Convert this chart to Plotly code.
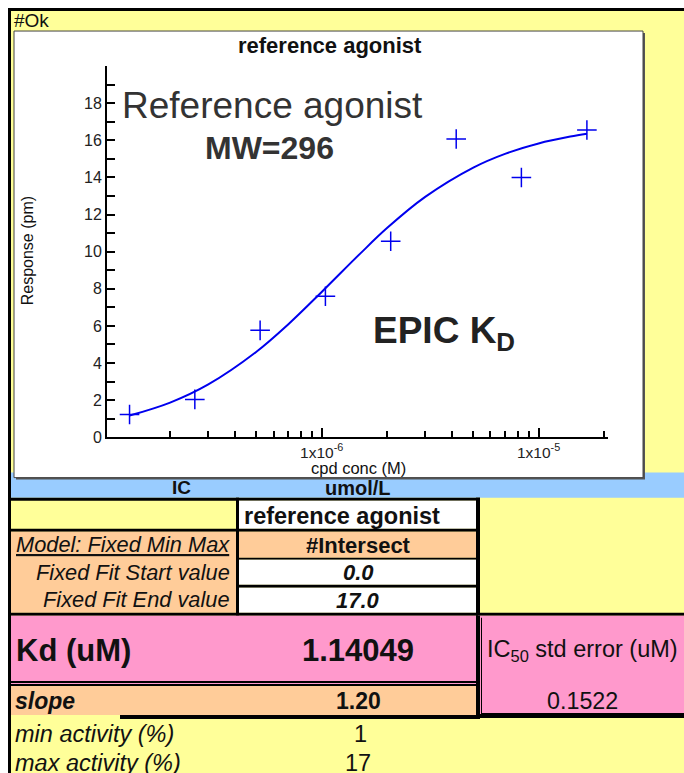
import plotly.graph_objects as go

# ---------------- data ----------------
conc_M = [1.3e-7, 2.6e-7, 5.2e-7, 1.04e-6, 2.08e-6, 4.17e-6, 8.33e-6, 1.67e-5]
response_pm = [1.23, 2.04, 5.76, 7.6, 10.56, 16.07, 14.0, 16.56]

fit_conc_M = [1.3e-7, 2e-7, 3e-7, 5e-7, 7e-7, 1e-6, 1.5e-6, 2e-6, 3e-6,
              5e-6, 7e-6, 1e-5, 1.4e-5, 1.67e-5]
fit_resp_pm = [1.17, 1.87, 2.85, 4.61, 6.08, 7.83, 9.88, 11.27, 12.95,
               14.53, 15.27, 15.83, 16.20, 16.35]

x_major_ticks = [1e-6, 1e-5]
x_major_labels = ["1x10<sup>-6</sup>", "1x10<sup>-5</sup>"]
x_minor_ticks = [2e-7, 3e-7, 4e-7, 5e-7, 6e-7, 7e-7, 8e-7, 9e-7,
                 2e-6, 3e-6, 4e-6, 5e-6, 6e-6, 7e-6, 8e-6, 9e-6, 2e-5]
y_major_ticks = [0, 2, 4, 6, 8, 10, 12, 14, 16, 18]
y_major_labels = ["0", "2", "4", "6", "8", "10", "12", "14", "16", "18"]
y_minor_ticks = [1, 3, 5, 7, 9, 11, 13, 15, 17, 19, 20]

compound = "reference agonist"
model = "#Intersect"
fit_start = "0.0"
fit_end = "17.0"
kd_uM = "1.14049"
slope = "1.20"
ic50_err = "0.1522"
min_act = "1"
max_act = "17"

# ---------------- layout helpers ----------------
W, H = 684, 773          # layout grid (reference pixels)
FIG_H = 783              # figure height
FONT = "Liberation Sans, Arial, sans-serif"
YEL, BLUE, ORG, PINK = "#FFFF99", "#99CCFF", "#FFCC99", "#FF99CC"


def px(x):
    return x / W


def py(y):
    return 1 - y / H


shapes = []


def rect(x0, y0, x1, y1, fill, line=None, lw=0):
    shapes.append(dict(type="rect", xref="paper", yref="paper",
                       x0=px(x0), x1=px(x1), y0=py(y1), y1=py(y0),
                       fillcolor=fill, line=dict(width=lw, color=line or fill),
                       layer="below"))


annots = []


def text(x, y, s, size, anchor="left", bold=False, italic=False, color="#111",
         angle=0):
    if bold:
        s = "<b>" + s + "</b>"
    if italic:
        s = "<i>" + s + "</i>"
    annots.append(dict(xref="paper", yref="paper", x=px(x), y=py(y), text=s,
                       showarrow=False, xanchor=anchor, yanchor="middle",
                       textangle=angle,
                       font=dict(family=FONT, size=size, color=color)))


# background & frame
rect(11, 11, 684, 773, YEL)
rect(8, 8, 684, 11, "black")
rect(8, 8, 11, 773, "black")
rect(11, 472, 684, 497, BLUE)
# chart box with shadow
rect(16, 33, 645, 479, "#555555")
rect(14, 31, 643, 477, "white", "#444444", 1)

# table
rect(8, 497, 480, 500, "black")
rect(239, 500, 476, 528, "white")
rect(8, 528, 480, 531, "black")
rect(11, 531, 236, 612, ORG)
rect(239, 531, 476, 557, ORG)
rect(239, 557, 476, 559, "black")
rect(239, 559, 476, 584, "white")
rect(239, 584, 476, 587, "black")
rect(239, 587, 476, 612, "white")
rect(236, 497, 239, 615, "black")
rect(476, 497, 480, 615, "black")
rect(8, 612, 684, 615, "black")
# Kd and slope
rect(11, 615, 476, 680, PINK)
rect(11, 680, 478, 682, "black")
rect(11, 682, 476, 683, PINK)
rect(11, 683, 478, 685, "black")
rect(11, 685, 476, 714, ORG)
rect(476, 615, 478, 717, "black")
rect(120, 714, 480, 718, "black")
# IC50 std error box
rect(478, 615, 684, 717, PINK)
rect(478, 615, 480, 717, "black")
rect(481, 617, 482, 714, "black")
rect(478, 713, 684, 717, "black")
rect(482, 712, 684, 713, "black")

# ---------------- texts ----------------
text(12, 20, "#Ok", 19)
text(330, 45, "reference agonist", 22, anchor="center", bold=True)
text(120, 105, "Reference agonist", 37, color="#333")
text(269, 148, "MW=296", 32, anchor="center", bold=True, color="#333")
text(371, 333, "EPIC K<sub>D</sub>", 37, bold=True, color="#222")
text(27, 251, "Response (pm)", 16, anchor="center", angle=-90)
text(358, 467, "cpd conc (M)", 16.5, anchor="center")

text(181, 487, "IC", 19, anchor="center", bold=True)
text(358, 487, "umol/L", 20, anchor="center", bold=True)

text(242, 515, compound, 23.5, bold=True)
text(232, 544, "<u>Model: Fixed Min Max</u>", 21.8, anchor="right", italic=True)
text(358, 545, model, 22, anchor="center", bold=True)
text(232, 572, "Fixed Fit Start value", 21.8, anchor="right", italic=True)
text(358, 572, fit_start, 22, anchor="center", bold=True, italic=True)
text(232, 599, "Fixed Fit End value", 21.8, anchor="right", italic=True)
text(358, 600, fit_end, 22, anchor="center", bold=True, italic=True)

text(14, 650, "Kd (uM)", 31, bold=True)
text(358, 650, kd_uM, 31, anchor="center", bold=True)
text(582, 650, "IC<sub>50</sub> std error (uM)", 23.5, anchor="center")
text(582, 700, ic50_err, 23.3, anchor="center")
text(13, 700, "slope", 23, bold=True, italic=True)
text(358, 700, slope, 23, anchor="center", bold=True)
text(13, 733, "min activity (%)", 23.5, italic=True)
text(360, 733, min_act, 23.5, anchor="center")
text(13, 762, "max activity (%)", 23.5, italic=True)
text(358, 762, max_act, 23.5, anchor="center")

# ---------------- figure ----------------
fig = go.Figure()
fig.add_trace(go.Scatter(x=fit_conc_M, y=fit_resp_pm, mode="lines",
                         line=dict(color="#0000EE", width=2, shape="spline"),
                         hoverinfo="skip"))
fig.add_trace(go.Scatter(x=conc_M, y=response_pm, mode="markers",
                         marker=dict(symbol="cross-thin", size=14,
                                     line=dict(color="#0000EE", width=1.5))))

fig.update_layout(
    width=W, height=FIG_H, margin=dict(l=0, r=0, t=0, b=0),
    paper_bgcolor="white", plot_bgcolor="rgba(0,0,0,0)",
    showlegend=False, shapes=shapes, annotations=annots,
    font=dict(family=FONT, color="#222"),
    xaxis=dict(type="log", range=[-6.99, -4.68],
               domain=[px(107), px(608)],
               showline=True, linecolor="black", linewidth=2,
               showgrid=False, zeroline=False,
               tickmode="array", tickvals=x_major_ticks,
               ticktext=x_major_labels, ticks="inside", ticklen=9,
               tickwidth=1.5, tickcolor="black",
               tickfont=dict(family=FONT, size=15.5, color="#222"),
               minor=dict(tickmode="array", tickvals=x_minor_ticks,
                          ticks="inside", ticklen=6, tickwidth=1.5,
                          tickcolor="black", showgrid=False)),
    yaxis=dict(range=[0, 20], domain=[py(436.7), py(66)],
               showline=True, linecolor="black", linewidth=2,
               showgrid=False, zeroline=False,
               tickmode="array", tickvals=y_major_ticks,
               ticktext=y_major_labels, ticks="inside", ticklen=8,
               tickwidth=1.5, tickcolor="black",
               tickfont=dict(family=FONT, size=16, color="#222"),
               minor=dict(tickmode="array", tickvals=y_minor_ticks,
                          ticks="inside", ticklen=8, tickwidth=1.5,
                          tickcolor="black", showgrid=False)),
)

# remove the default page margin so the figure starts at the window corner
fig.write_html("out.html", config={"displayModeBar": False},
               post_script="document.body.style.margin='0';")
